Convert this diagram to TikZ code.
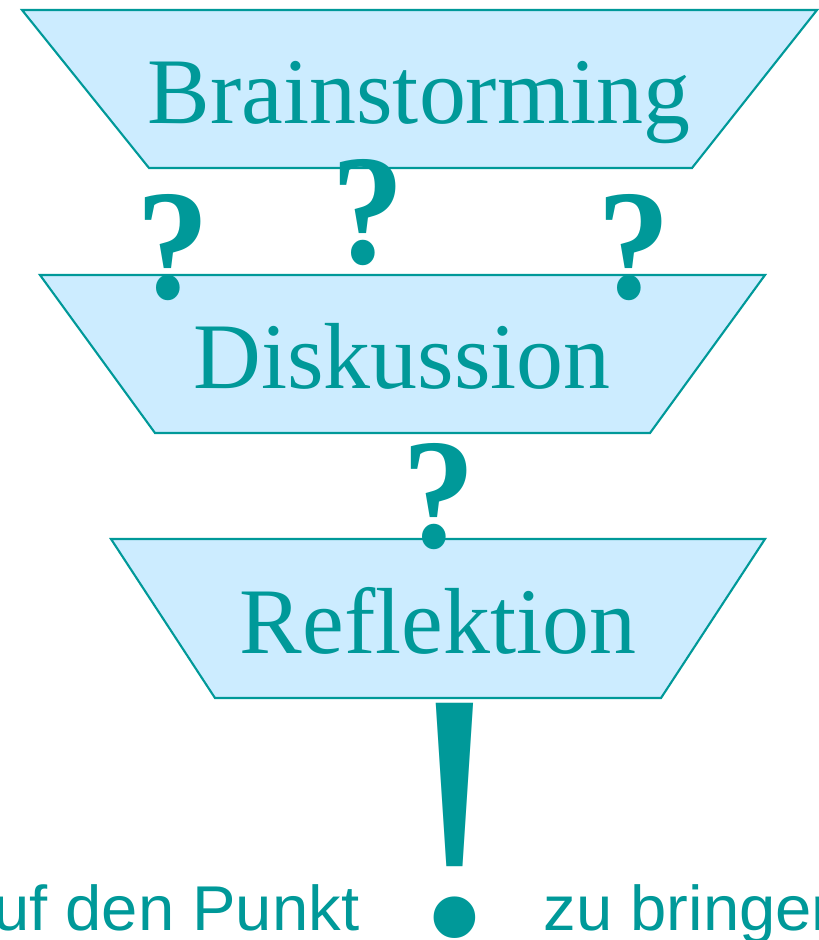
\documentclass[tikz,border=0pt]{standalone}
\usepackage{fontspec}
\setmainfont{Liberation Serif}
\setsansfont{Liberation Sans}
\definecolor{petrol}{HTML}{009999}
\definecolor{paleblue}{HTML}{CCECFF}

\begin{document}
\begin{tikzpicture}[x=0.01cm, y=-0.01cm,
    stage/.style={draw=petrol, fill=paleblue, line width=0.6pt},
    stagename/.style={text=petrol, inner sep=0pt, anchor=base, font=\fontsize{26.7}{30}\selectfont},
    query/.style={text=petrol, inner sep=0pt, anchor=base, xscale=0.93, font=\bfseries\fontsize{44.7}{50}\selectfont},
    motto/.style={text=petrol, inner sep=0pt, xscale=1.03, font=\sffamily\fontsize{18}{20}\selectfont}]
    \useasboundingbox (0,0) rectangle (819,940);
    \clip (0,0) rectangle (819,940);

    \draw[stage] (22,10) -- (817,10) -- (692,168) -- (149,168) -- cycle;
    \draw[stage] (40,275) -- (765,275) -- (650,433) -- (155,433) -- cycle;
    \draw[stage] (111,539) -- (765,539) -- (661,698) -- (215,698) -- cycle;

    \node[stagename] (brainstorming) at (419,124) {Brainstorming};
    \node[stagename] (diskussion) at (402,388) {Diskussion};
    \node[stagename] (reflektion) at (438,653) {Reflektion};

    \node[query] (query1) at (173,298) {?};
    \node[query] (query2) at (368,264) {?};
    \node[query] (query3) at (634,298) {?};
    \node[query] (query4) at (439,547) {?};

    \node[text=petrol, inner sep=0pt, anchor=base, font=\fontsize{100}{110}\selectfont] (bang) at (455,933) {!};

    \node[motto, anchor=base east] (punkt) at (360,930) {auf den Punkt};
    \node[motto, anchor=base west] (bringen) at (543,930) {zu bringen};
\end{tikzpicture}
\end{document}
